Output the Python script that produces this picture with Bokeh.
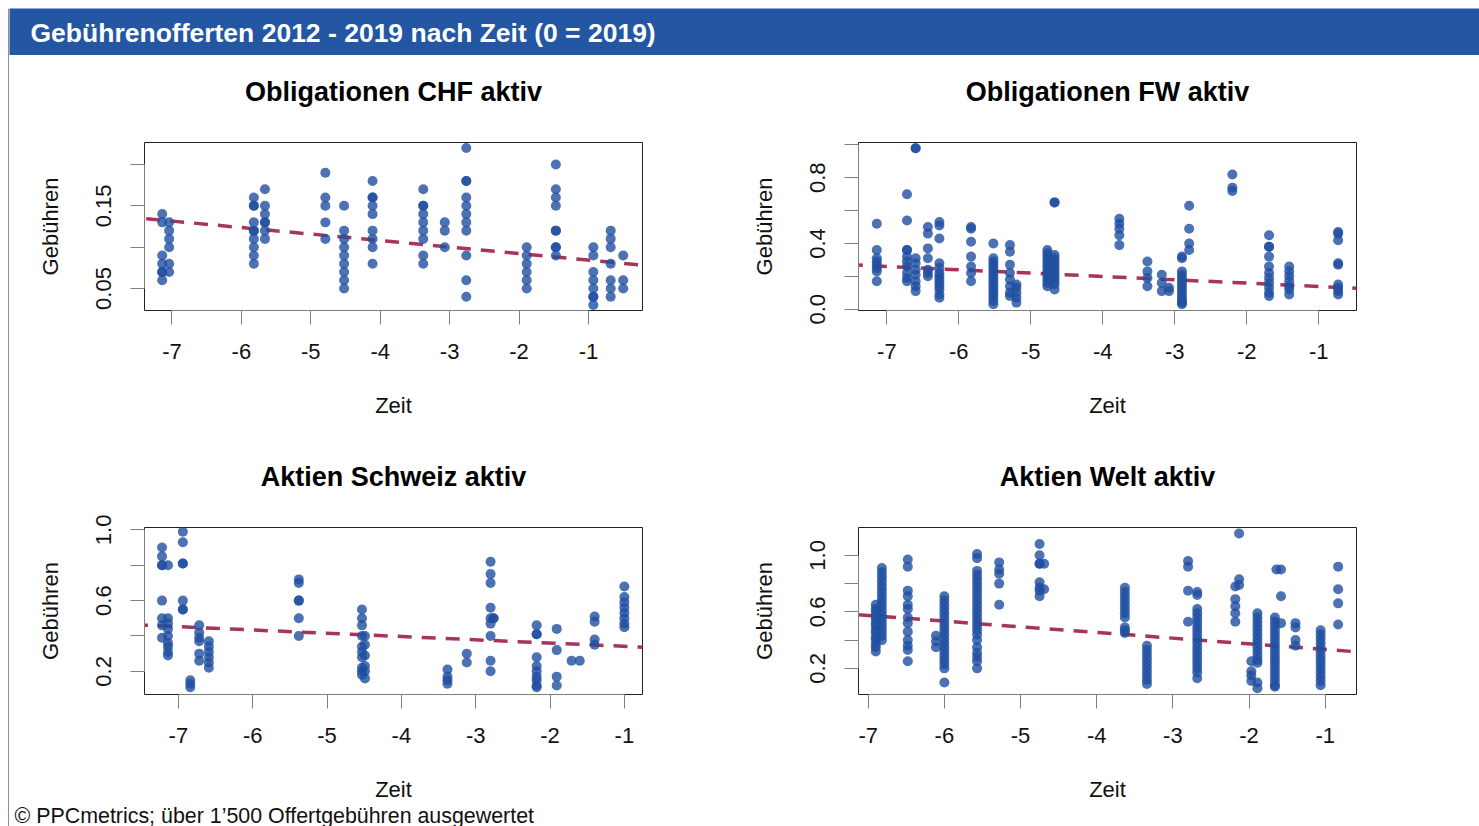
from bokeh.plotting import figure
from bokeh.models import Slope, Label, FixedTicker, Range1d, Title
from bokeh.layouts import column, row
from bokeh.embed import file_html
from bokeh.resources import INLINE

FONT = "Liberation Sans"
BLUE_BAR = "#2356A3"
PT = "#1F4FA0"
TREND = "#A8345C"
EDGE = "#222222"

header_text = "Gebührenofferten 2012 - 2019 nach Zeit (0 = 2019)"
footer_text = "© PPCmetrics; über 1’500 Offertgebühren ausgewertet"
titles = ["Obligationen CHF aktiv", "Obligationen FW aktiv", "Aktien Schweiz aktiv", "Aktien Welt aktiv"]
x_label = "Zeit"
y_label = "Gebühren"
x_ticks = [-7, -6, -5, -4, -3, -2, -1]

# ---- data: (Zeit, [Gebühren ...]) per column of offers ----
chf_cols = [
    (-7.14, [0.14, 0.13, 0.09, 0.08, 0.07, 0.07, 0.06]),
    (-7.04, [0.13, 0.12, 0.11, 0.10, 0.08, 0.07]),
    (-5.82, [0.16, 0.15, 0.15, 0.13, 0.12, 0.12, 0.11, 0.10, 0.09, 0.08]),
    (-5.66, [0.17, 0.15, 0.14, 0.13, 0.13, 0.12, 0.11]),
    (-4.79, [0.19, 0.16, 0.15, 0.13, 0.11]),
    (-4.52, [0.15, 0.12, 0.11, 0.10, 0.09, 0.08, 0.07, 0.06, 0.05]),
    (-4.11, [0.18, 0.16, 0.16, 0.15, 0.14, 0.12, 0.11, 0.10, 0.08]),
    (-3.38, [0.17, 0.15, 0.15, 0.14, 0.13, 0.12, 0.11, 0.09, 0.08]),
    (-3.07, [0.13, 0.12, 0.10]),
    (-2.76, [0.22, 0.18, 0.18, 0.16, 0.15, 0.14, 0.13, 0.12, 0.09, 0.06, 0.04]),
    (-1.89, [0.10, 0.09, 0.08, 0.07, 0.06, 0.05]),
    (-1.47, [0.20, 0.17, 0.16, 0.15, 0.12, 0.12, 0.10, 0.10, 0.09]),
    (-0.93, [0.10, 0.09, 0.07, 0.06, 0.05, 0.04, 0.04, 0.03]),
    (-0.68, [0.12, 0.11, 0.10, 0.08, 0.06, 0.05, 0.04]),
    (-0.50, [0.09, 0.06, 0.05]),
]
fw_cols = [
    (-7.14, [0.52, 0.36, 0.31, 0.29, 0.27, 0.25, 0.23, 0.17]),
    (-6.72, [0.70, 0.54, 0.36, 0.36, 0.32, 0.29, 0.26, 0.22, 0.19, 0.17]),
    (-6.60, [0.98, 0.98, 0.31, 0.28, 0.24, 0.21, 0.17, 0.14, 0.11]),
    (-6.43, [0.50, 0.46, 0.37, 0.31, 0.24, 0.22, 0.20]),
    (-6.27, [0.53, 0.51, 0.43, 0.28, 0.25, 0.22, 0.20, 0.18, 0.16, 0.14, 0.12, 0.09, 0.07]),
    (-5.83, [0.50, 0.49, 0.41, 0.32, 0.26, 0.22, 0.17]),
    (-5.52, [0.40, 0.31, 0.29, 0.27, 0.25, 0.23, 0.21, 0.19, 0.17, 0.15, 0.13, 0.11, 0.09, 0.07, 0.05, 0.03]),
    (-5.29, [0.39, 0.35, 0.27, 0.22, 0.18, 0.14, 0.10, 0.08]),
    (-5.20, [0.15, 0.13, 0.10, 0.07, 0.04]),
    (-4.77, [0.36, 0.34, 0.32, 0.30, 0.28, 0.26, 0.24, 0.22, 0.20, 0.18, 0.16, 0.14]),
    (-4.67, [0.65, 0.65, 0.33, 0.31, 0.29, 0.27, 0.25, 0.23, 0.21, 0.19, 0.17, 0.15, 0.12]),
    (-3.77, [0.55, 0.52, 0.49, 0.45, 0.39]),
    (-3.38, [0.29, 0.23, 0.19, 0.14]),
    (-3.18, [0.21, 0.16, 0.11]),
    (-3.08, [0.13, 0.11]),
    (-2.90, [0.32, 0.31, 0.23, 0.21, 0.19, 0.17, 0.15, 0.13, 0.11, 0.09, 0.07, 0.05, 0.04, 0.03]),
    (-2.80, [0.63, 0.49, 0.40, 0.36]),
    (-2.20, [0.82, 0.74, 0.72]),
    (-1.69, [0.45, 0.38, 0.38, 0.32, 0.26, 0.22, 0.19, 0.16, 0.13, 0.10, 0.08]),
    (-1.41, [0.26, 0.23, 0.20, 0.17, 0.14, 0.12, 0.09]),
    (-0.73, [0.47, 0.46, 0.42, 0.28, 0.27, 0.15, 0.13, 0.11, 0.09]),
]
ch_cols = [
    (-7.22, [0.90, 0.85, 0.80, 0.80, 0.60, 0.50, 0.46, 0.39]),
    (-7.14, [0.80, 0.50, 0.47, 0.44, 0.40, 0.36, 0.34, 0.31, 0.29]),
    (-6.94, [0.99, 0.93, 0.81, 0.81, 0.60, 0.55, 0.55]),
    (-6.84, [0.15, 0.13, 0.11]),
    (-6.72, [0.46, 0.42, 0.39, 0.37, 0.30, 0.26]),
    (-6.59, [0.37, 0.34, 0.31, 0.28, 0.25, 0.22]),
    (-5.38, [0.72, 0.70, 0.60, 0.60, 0.50, 0.40]),
    (-4.53, [0.55, 0.50, 0.46, 0.40, 0.34, 0.31, 0.28, 0.22, 0.20, 0.18]),
    (-4.49, [0.40, 0.35, 0.29, 0.23, 0.20, 0.16]),
    (-3.38, [0.21, 0.17, 0.15, 0.13]),
    (-3.12, [0.30, 0.25]),
    (-2.80, [0.82, 0.75, 0.70, 0.56, 0.50, 0.47, 0.40, 0.26, 0.20]),
    (-2.76, [0.50, 0.50]),
    (-2.18, [0.46, 0.41, 0.41, 0.28, 0.23, 0.20, 0.17, 0.15, 0.12, 0.11]),
    (-1.91, [0.44, 0.32, 0.17, 0.12]),
    (-1.71, [0.26]),
    (-1.60, [0.26]),
    (-1.40, [0.51, 0.48, 0.38, 0.35]),
    (-1.00, [0.68, 0.62, 0.59, 0.56, 0.53, 0.50, 0.47, 0.45]),
]
welt_cols = [
    (-6.90, [0.65, 0.62, 0.60, 0.57, 0.55, 0.52, 0.50, 0.47, 0.45, 0.42, 0.40, 0.37, 0.35, 0.32]),
    (-6.82, [0.91, 0.88, 0.85, 0.82, 0.79, 0.76, 0.73, 0.70, 0.67, 0.64, 0.61, 0.58, 0.55, 0.52, 0.49, 0.46, 0.43, 0.40]),
    (-6.48, [0.97, 0.92, 0.75, 0.71, 0.65, 0.62, 0.56, 0.52, 0.46, 0.40, 0.36, 0.33, 0.25]),
    (-6.11, [0.43, 0.39, 0.35]),
    (-6.00, [0.71, 0.68, 0.65, 0.62, 0.59, 0.56, 0.53, 0.50, 0.47, 0.44, 0.41, 0.38, 0.35, 0.32, 0.29, 0.26, 0.23, 0.20, 0.10]),
    (-5.57, [1.01, 0.98, 0.89, 0.86, 0.83, 0.80, 0.77, 0.74, 0.71, 0.68, 0.65, 0.62, 0.59, 0.56, 0.53, 0.50, 0.47, 0.44, 0.40, 0.35, 0.31, 0.28, 0.25, 0.20]),
    (-5.28, [0.95, 0.90, 0.87, 0.80, 0.65]),
    (-4.75, [1.08, 1.00, 0.94, 0.94, 0.81, 0.77, 0.75, 0.71]),
    (-4.69, [0.94, 0.76]),
    (-3.63, [0.77, 0.74, 0.71, 0.68, 0.65, 0.62, 0.59, 0.56, 0.49, 0.47, 0.45]),
    (-3.34, [0.36, 0.33, 0.30, 0.27, 0.24, 0.21, 0.18, 0.15, 0.12, 0.09]),
    (-2.80, [0.96, 0.92, 0.75, 0.53]),
    (-2.68, [0.74, 0.72, 0.62, 0.59, 0.56, 0.53, 0.50, 0.47, 0.44, 0.41, 0.38, 0.35, 0.32, 0.29, 0.26, 0.23, 0.20, 0.17, 0.13]),
    (-2.18, [0.78, 0.69, 0.64, 0.59, 0.53]),
    (-2.13, [1.155, 0.83, 0.79]),
    (-1.97, [0.25, 0.18, 0.15, 0.11]),
    (-1.89, [0.59, 0.56, 0.53, 0.50, 0.47, 0.44, 0.41, 0.38, 0.35, 0.32, 0.29, 0.26, 0.24, 0.10, 0.06]),
    (-1.66, [0.56, 0.53, 0.50, 0.47, 0.44, 0.41, 0.38, 0.35, 0.32, 0.29, 0.26, 0.23, 0.20, 0.17, 0.14, 0.11, 0.08, 0.07]),
    (-1.64, [0.90]),
    (-1.58, [0.90, 0.71, 0.52]),
    (-1.39, [0.52, 0.49, 0.40, 0.36]),
    (-1.06, [0.47, 0.44, 0.41, 0.38, 0.35, 0.32, 0.29, 0.26, 0.23, 0.20, 0.17, 0.14, 0.11, 0.08]),
    (-0.83, [0.92, 0.76, 0.66, 0.51]),
]

# linear trend (intercept at Zeit=0, slope per year)
trend_intercept = [0.0765, 0.118, 0.3228, 0.2936]
trend_slope = [-0.00787, -0.0203, -0.01853, -0.0401]

# axis ranges
x_ranges = [(-7.395, -0.222), (-7.394, -0.475), (-7.456, -0.756), (-7.127, -0.589)]
y_ranges = [(0.0234, 0.2266), (-0.008, 1.0146), (0.069, 1.0135), (0.015, 1.197)]
y_ticks = [
    [0.05, 0.10, 0.15, 0.20],
    [0.0, 0.2, 0.4, 0.6, 0.8, 1.0],
    [0.2, 0.4, 0.6, 0.8, 1.0],
    [0.2, 0.4, 0.6, 0.8, 1.0],
]
y_tick_labels = [
    ["0.05", "", "0.15", ""],
    ["0.0", "", "0.4", "", "0.8", ""],
    ["0.2", "", "0.6", "", "1.0"],
    ["0.2", "", "0.6", "", "1.0"],
]
all_cols = [chf_cols, fw_cols, ch_cols, welt_cols]


def expand(cols):
    xs, ys = [], []
    for x, vals in cols:
        for v in vals:
            xs.append(x)
            ys.append(v)
    return xs, ys


def blank(width, height, fill="white"):
    f = figure(width=width, height=height, x_range=Range1d(0, width), y_range=Range1d(0, height),
               output_backend="svg", toolbar_location=None,
               x_axis_location=None, y_axis_location=None, min_border=0,
               background_fill_color=fill, border_fill_color=fill, outline_line_color=None)
    f.grid.visible = False
    return f


def make_panel(i, width, height, border_left, border_bottom):
    p = figure(width=width, height=height,
               x_range=Range1d(*x_ranges[i]), y_range=Range1d(*y_ranges[i]),
               output_backend="svg", toolbar_location=None,
               min_border_left=border_left, min_border_right=80,
               min_border_top=87, min_border_bottom=border_bottom,
               background_fill_color="white", border_fill_color="white")
    p.grid.visible = False
    p.outline_line_color = EDGE
    p.outline_line_width = 1

    # thin empty spacer between frame and the panel title
    p.add_layout(Title(text=" ", text_font_size="1px", standoff=28), "above")

    p.title.text = titles[i]
    p.title.text_font = FONT
    p.title.text_font_size = "27px"
    p.title.text_font_style = "bold"
    p.title.text_color = "black"
    p.title.align = "center"
    p.title.standoff = 10

    for ax in (p.xaxis[0], p.yaxis[0]):
        ax.axis_line_color = "#808080"
        ax.major_tick_line_color = "#808080"
        ax.minor_tick_line_color = None
        ax.major_tick_in = 0
        ax.major_tick_out = 14
        ax.major_label_text_font = FONT
        ax.major_label_text_font_size = "22px"
        ax.major_label_text_color = "#111111"
        ax.axis_label_text_font = FONT
        ax.axis_label_text_font_size = "22px"
        ax.axis_label_text_font_style = "normal"
        ax.axis_label_text_color = "#111111"

    xa = p.xaxis[0]
    xa.ticker = FixedTicker(ticks=x_ticks)
    xa.major_label_overrides = {t: str(t) for t in x_ticks}
    xa.bounds = (x_ticks[0], x_ticks[-1])
    xa.major_label_standoff = 19
    xa.axis_label = x_label
    xa.axis_label_standoff = 31

    ya = p.yaxis[0]
    ya.ticker = FixedTicker(ticks=y_ticks[i])
    ya.major_label_overrides = dict(zip(y_ticks[i], y_tick_labels[i]))
    ya.bounds = (y_ticks[i][0], y_ticks[i][-1])
    ya.major_label_orientation = "vertical"
    ya.major_label_standoff = 19
    ya.axis_label = y_label
    ya.axis_label_standoff = 31

    p.add_layout(Slope(gradient=trend_slope[i], y_intercept=trend_intercept[i],
                       line_color=TREND, line_width=3.5, line_dash="14 10",
                       level="underlay"))
    xs, ys = expand(all_cols[i])
    p.scatter(xs, ys, size=10, fill_color=PT, fill_alpha=0.8, line_color=None)
    return p


# frame lines of the slide (top and left)
top_strip = blank(1479, 8)
top_strip.quad(left=[8], right=[1479], bottom=[0], top=[1], fill_color=EDGE, line_color=None)
left_strip = blank(9, 818)
left_strip.quad(left=[8], right=[9], bottom=[0], top=[818], fill_color=EDGE, line_color=None)

hdr = blank(1470, 47, BLUE_BAR)
hdr.add_layout(Label(x=21, y=23, x_units="screen", y_units="screen", text=header_text,
                     text_color="white", text_font=FONT, text_font_size="26.5px",
                     text_font_style="bold", text_baseline="middle"))

p1 = make_panel(0, 713, 385, 135, 130)
p2 = make_panel(1, 714, 385, 136, 130)
p3 = make_panel(2, 713, 364, 135, 109)
p4 = make_panel(3, 714, 364, 136, 109)

ftr = blank(1470, 22)
ftr.add_layout(Label(x=5, y=11, x_units="screen", y_units="screen", text=footer_text,
                     text_color="#111111", text_font=FONT, text_font_size="21.4px",
                     text_baseline="middle"))

main = column(hdr, row(p1, p2), row(p3, p4), ftr)
layout = column(top_strip, row(left_strip, main))

open("out.html", "w").write(file_html(layout, INLINE))
